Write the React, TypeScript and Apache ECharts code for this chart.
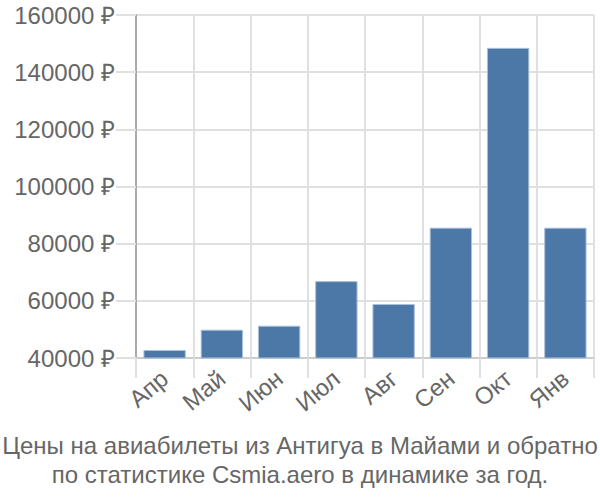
import React, { useEffect, useRef } from "react";
import * as echarts from "echarts";

const categories = ["Апр", "Май", "Июн", "Июл", "Авг", "Сен", "Окт", "Янв"];
const prices = [42800, 49900, 51300, 66900, 58900, 85600, 148500, 85600];
const yMin = 40000;
const yMax = 160000;
const yStep = 20000;
const titleText =
  "Цены на авиабилеты из Антигуа в Майами и обратно\nпо статистике Csmia.aero в динамике за год.";

const FONT = "Liberation Sans, Arial, sans-serif";

export default function App() {
  const ref = useRef<HTMLDivElement>(null);
  useEffect(() => {
    document.body.style.margin = "0";
    if (!ref.current) return;
    const chart = echarts.init(ref.current, undefined, { renderer: "svg" });
    chart.setOption({
      animation: false,
      textStyle: { fontFamily: FONT },
      graphic: [
        {
          type: "text",
          left: "center",
          top: 431,
          style: {
            text: titleText,
            textAlign: "center",
            fontSize: 24,
            lineHeight: 29,
            fill: "#666",
            fontFamily: FONT,
          },
        },
      ],
      grid: { left: 136, right: 6, top: 15, bottom: 142, containLabel: false },
      xAxis: {
        type: "category",
        data: categories,
        boundaryGap: true,
        axisLine: { show: true, lineStyle: { color: "#ccc", width: 2 } },
        axisTick: { show: true, length: 20, lineStyle: { color: "#e0e0e0", width: 2 } },
        splitLine: { show: true, lineStyle: { color: "#e0e0e0", width: 2 } },
        axisLabel: {
          rotate: 40,
          fontSize: 24,
          color: "#666",
          margin: 17,
          fontFamily: FONT,
        },
      },
      yAxis: {
        type: "value",
        min: yMin,
        max: yMax,
        interval: yStep,
        axisLine: { show: true, lineStyle: { color: "#aaa", width: 2 } },
        axisTick: { show: true, length: 20, lineStyle: { color: "#e0e0e0", width: 2 } },
        splitLine: { show: true, lineStyle: { color: "#e0e0e0", width: 2 } },
        axisLabel: {
          fontSize: 24,
          color: "#666",
          margin: 21,
          formatter: (v: number) => `${v} ₽`,
          fontFamily: FONT,
        },
      },
      series: [
        {
          type: "bar",
          data: prices,
          barCategoryGap: "26%",
          itemStyle: { color: "#4c78a8", borderColor: "#a9c0da", borderWidth: 1 },
        },
      ],
    });
    return () => chart.dispose();
  }, []);
  return <div ref={ref} style={{ width: 600, height: 500 }} />;
}
